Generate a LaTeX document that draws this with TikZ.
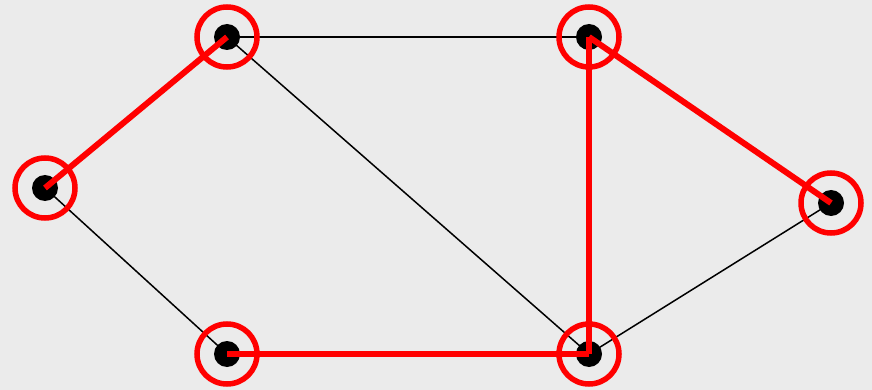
\documentclass[tikz,border=0pt]{standalone}
\begin{document}
\begin{tikzpicture}[x=1pt,y=-1pt,
  dot/.style={circle,fill=black,inner sep=0pt,minimum size=26pt},
  ring/.style={draw=red,line width=5.5pt,circle,inner sep=0pt,minimum size=60pt},
  plain/.style={draw=black,line width=1.5pt},
  chosen/.style={draw=red,line width=6pt}]
\fill[black!8] (0,0) rectangle (872,390);
\useasboundingbox (0,0) rectangle (872,390);
\coordinate (A) at (227,37);
\coordinate (B) at (589,37);
\coordinate (C) at (45,188);
\coordinate (D) at (831,203);
\coordinate (E) at (227,354);
\coordinate (F) at (589,354);
\path[plain] (A) -- (B);
\path[plain] (A) -- (F);
\path[plain] (C) -- (E);
\path[plain] (F) -- (D);
\foreach \n in {A,B,C,D,E,F} {\node[dot] (d\n) at (\n) {};}
\foreach \n in {A,B,C,D,E,F} {\node[ring] (r\n) at (\n) {};}
\path[chosen] (A) -- (C);
\path[chosen] (E) -- (F);
\path[chosen] (B) -- (F);
\path[chosen] (B) -- (D);
\end{tikzpicture}
\end{document}
